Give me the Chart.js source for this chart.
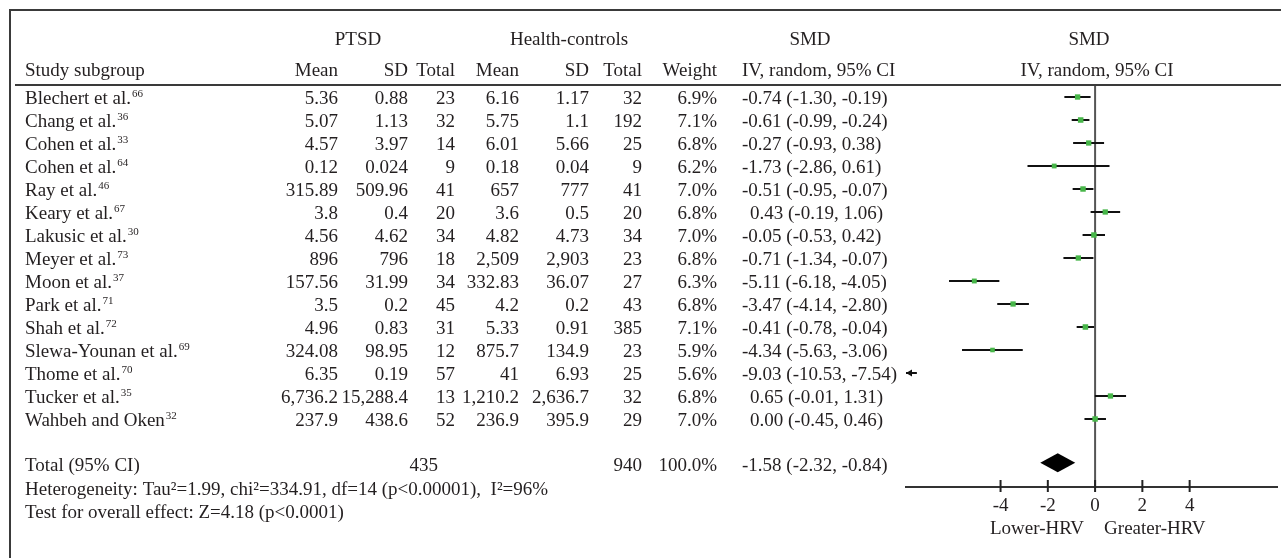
<!DOCTYPE html>
<html>
<head>
<meta charset="utf-8">
<script src="https://cdn.jsdelivr.net/npm/chart.js@4/dist/chart.umd.min.js"></script>
<style>
  html, body { margin: 0; padding: 0; background: #ffffff; }
  #wrap { width: 1281px; height: 558px; }
</style>
</head>
<body>
<div id="wrap"><canvas id="forest" width="1281" height="558"></canvas></div>
<script>
// ---- Study data ----
const studies = ["Blechert et al.", "Chang et al.", "Cohen et al.", "Cohen et al.", "Ray et al.",
  "Keary et al.", "Lakusic et al.", "Meyer et al.", "Moon et al.", "Park et al.", "Shah et al.",
  "Slewa-Younan et al.", "Thome et al.", "Tucker et al.", "Wahbeh and Oken"];
const refs = ["66", "36", "33", "64", "46", "67", "30", "73", "37", "71", "72", "69", "70", "35", "32"];

const ptsdMean = [5.36, 5.07, 4.57, 0.12, 315.89, 3.8, 4.56, 896, 157.56, 3.5, 4.96, 324.08, 6.35, 6736.2, 237.9];
const ptsdSD   = [0.88, 1.13, 3.97, 0.024, 509.96, 0.4, 4.62, 796, 31.99, 0.2, 0.83, 98.95, 0.19, 15288.4, 438.6];
const ptsdN    = [23, 32, 14, 9, 41, 20, 34, 18, 34, 45, 31, 12, 57, 13, 52];

const hcMean = [6.16, 5.75, 6.01, 0.18, 657, 3.6, 4.82, 2509, 332.83, 4.2, 5.33, 875.7, 41, 1210.2, 236.9];
const hcSD   = [1.17, 1.1, 5.66, 0.04, 777, 0.5, 4.73, 2903, 36.07, 0.2, 0.91, 134.9, 6.93, 2636.7, 395.9];
const hcN    = [32, 192, 25, 9, 41, 20, 34, 23, 27, 43, 385, 23, 25, 32, 29];

const weights = [6.9, 7.1, 6.8, 6.2, 7.0, 6.8, 7.0, 6.8, 6.3, 6.8, 7.1, 5.9, 5.6, 6.8, 7.0];
const smd     = [-0.74, -0.61, -0.27, -1.73, -0.51, 0.43, -0.05, -0.71, -5.11, -3.47, -0.41, -4.34, -9.03, 0.65, 0.00];
const ciLow   = [-1.30, -0.99, -0.93, -2.86, -0.95, -0.19, -0.53, -1.34, -6.18, -4.14, -0.78, -5.63, -10.53, -0.01, -0.45];
const ciHigh  = [-0.19, -0.24, 0.38, 0.61, -0.07, 1.06, 0.42, -0.07, -4.05, -2.80, -0.04, -3.06, -7.54, 1.31, 0.46];

// ---- Pooled result ----
const totalPtsdN = 435;
const totalHcN = 940;
const totalWeight = 100.0;
const totalSmd = -1.58;
const totalLow = -2.32;
const totalHigh = -0.84;
const heterogeneityText = "Heterogeneity: Tau\u00B2=1.99, chi\u00B2=334.91, df=14 (p<0.00001),  I\u00B2=96%";
const overallText = "Test for overall effect: Z=4.18 (p<0.0001)";

// ---- Axis ----
const xTicks = [-4, -2, 0, 2, 4];
const axisLeftLabel = "Lower-HRV";
const axisRightLabel = "Greater-HRV";

// ---- Layout ----
const FONT = '"Liberation Serif", "Times New Roman", serif';
const FS = 19;
const INK = '#231f20';
const RULE = '#3a3a3a';
const totalRowPos = 15.9;

const fmtNum = v => v.toLocaleString('en-US', { maximumFractionDigits: 3 });
const fmt2 = v => (Object.is(v, -0) ? 0 : v).toFixed(2);

function text(ctx, s, x, y, align, size) {
  ctx.font = (size || FS) + 'px ' + FONT;
  ctx.textAlign = align || 'left';
  ctx.textBaseline = 'alphabetic';
  ctx.fillText(s, x, y);
}

const forestPlugin = {
  id: 'forest',
  beforeDatasetsDraw(chart) {
    const { ctx, chartArea: ca } = chart;
    const xs = chart.scales.x, ys = chart.scales.y;
    ctx.save();
    // line of no effect
    const x0 = xs.getPixelForValue(0);
    ctx.strokeStyle = '#555555';
    ctx.lineWidth = 2;
    ctx.beginPath();
    ctx.moveTo(x0, ca.top);
    ctx.lineTo(x0, ca.bottom);
    ctx.stroke();

    // confidence intervals
    ctx.strokeStyle = '#111111';
    ctx.fillStyle = '#111111';
    ctx.lineWidth = 2;
    smd.forEach((v, i) => {
      const y = ys.getPixelForValue(i);
      let a = xs.getPixelForValue(ciLow[i]);
      let b = xs.getPixelForValue(ciHigh[i]);
      const clippedLeft = a < ca.left;
      a = Math.max(a, ca.left);
      b = Math.min(b, ca.right);
      if (b <= ca.left) return;
      ctx.beginPath();
      ctx.moveTo(a, y);
      ctx.lineTo(b, y);
      ctx.stroke();
      if (clippedLeft) {
        ctx.beginPath();
        ctx.moveTo(a, y);
        ctx.lineTo(a + 6, y - 3.5);
        ctx.lineTo(a + 6, y + 3.5);
        ctx.closePath();
        ctx.fill();
      }
    });

    // pooled estimate diamond
    const yd = ys.getPixelForValue(totalRowPos);
    ctx.fillStyle = '#000000';
    ctx.beginPath();
    ctx.moveTo(xs.getPixelForValue(totalLow), yd);
    ctx.lineTo(xs.getPixelForValue(totalSmd), yd - 9.5);
    ctx.lineTo(xs.getPixelForValue(totalHigh), yd);
    ctx.lineTo(xs.getPixelForValue(totalSmd), yd + 9.5);
    ctx.closePath();
    ctx.fill();
    ctx.restore();
  },
  afterDraw(chart) {
    const { ctx, chartArea: ca } = chart;
    const xs = chart.scales.x, ys = chart.scales.y;
    const W = chart.width, H = chart.height;
    ctx.save();

    // frame and header rules
    ctx.strokeStyle = RULE;
    ctx.lineWidth = 2;
    ctx.beginPath();
    ctx.moveTo(10, H);
    ctx.lineTo(10, 10);
    ctx.lineTo(W, 10);
    ctx.stroke();
    ctx.beginPath();
    ctx.moveTo(15, 85);
    ctx.lineTo(W, 85);
    ctx.stroke();

    // tick marks across the axis line
    ctx.strokeStyle = '#222222';
    ctx.lineWidth = 2;
    xs.ticks.forEach(t => {
      const px = xs.getPixelForValue(t.value);
      ctx.beginPath();
      ctx.moveTo(px, ca.bottom - 7);
      ctx.lineTo(px, ca.bottom + 5);
      ctx.stroke();
    });

    ctx.fillStyle = INK;
    // column headers
    text(ctx, 'PTSD', 358, 45, 'center');
    text(ctx, 'Health-controls', 569, 45, 'center');
    text(ctx, 'SMD', 810, 45, 'center');
    text(ctx, 'SMD', 1089, 45, 'center');
    text(ctx, 'Study subgroup', 25, 76, 'left');
    text(ctx, 'Mean', 338, 76, 'right');
    text(ctx, 'SD', 408, 76, 'right');
    text(ctx, 'Total', 455, 76, 'right');
    text(ctx, 'Mean', 519, 76, 'right');
    text(ctx, 'SD', 589, 76, 'right');
    text(ctx, 'Total', 642, 76, 'right');
    text(ctx, 'Weight', 717, 76, 'right');
    text(ctx, 'IV, random, 95% CI', 742, 76, 'left');
    text(ctx, 'IV, random, 95% CI', 1097, 76, 'center');

    // study rows
    studies.forEach((name, i) => {
      const yb = ys.getPixelForValue(i) + 7;
      text(ctx, name, 25, yb, 'left');
      ctx.font = FS + 'px ' + FONT;
      const w = ctx.measureText(name).width;
      text(ctx, refs[i], 25 + w + 1, yb - 7, 'left', 11);
      text(ctx, fmtNum(ptsdMean[i]), 338, yb, 'right');
      text(ctx, fmtNum(ptsdSD[i]), 408, yb, 'right');
      text(ctx, String(ptsdN[i]), 455, yb, 'right');
      text(ctx, fmtNum(hcMean[i]), 519, yb, 'right');
      text(ctx, fmtNum(hcSD[i]), 589, yb, 'right');
      text(ctx, String(hcN[i]), 642, yb, 'right');
      text(ctx, weights[i].toFixed(1) + '%', 717, yb, 'right');
      const lead = smd[i] < 0 ? 0 : 8;
      text(ctx, fmt2(smd[i]) + ' (' + fmt2(ciLow[i]) + ', ' + fmt2(ciHigh[i]) + ')', 742 + lead, yb, 'left');
    });

    // pooled row
    const yt = ys.getPixelForValue(totalRowPos) + 8;
    text(ctx, 'Total (95% CI)', 25, yt, 'left');
    text(ctx, String(totalPtsdN), 438, yt, 'right');
    text(ctx, String(totalHcN), 642, yt, 'right');
    text(ctx, totalWeight.toFixed(1) + '%', 717, yt, 'right');
    text(ctx, fmt2(totalSmd) + ' (' + fmt2(totalLow) + ', ' + fmt2(totalHigh) + ')', 742, yt, 'left');
    text(ctx, heterogeneityText, 25, 494.5, 'left');
    text(ctx, overallText, 25, 518, 'left');

    // axis direction labels
    const x0 = xs.getPixelForValue(0);
    text(ctx, axisLeftLabel, x0 - 11, 534, 'right');
    text(ctx, axisRightLabel, x0 + 9, 534, 'left');
    ctx.restore();
  }
};

new Chart(document.getElementById('forest'), {
  type: 'scatter',
  data: {
    datasets: [{
      data: smd.map((v, i) => ({ x: v, y: i })),
      pointStyle: 'rect',
      pointRadius: weights.map(w => w * 0.55),
      pointHoverRadius: weights.map(w => w * 0.55),
      backgroundColor: '#47b649',
      borderWidth: 0,
      clip: 0
    }]
  },
  options: {
    responsive: false,
    devicePixelRatio: 1,
    animation: false,
    events: [],
    layout: { padding: { left: 906, right: 0, top: 85, bottom: 0 } },
    plugins: { legend: { display: false }, tooltip: { enabled: false } },
    scales: {
      x: {
        type: 'linear',
        min: -8,
        max: 7.7,
        afterBuildTicks: s => { s.ticks = xTicks.map(v => ({ value: v })); },
        afterFit: s => { s.height = 71; },
        grid: { display: false, drawTicks: false },
        border: { display: true, color: '#333333', width: 2 },
        ticks: {
          autoSkip: false,
          maxRotation: 0,
          padding: 8,
          color: INK,
          font: { family: FONT, size: FS },
          callback: v => String(v)
        }
      },
      y: {
        type: 'linear',
        display: false,
        reverse: true,
        min: -12 / 23,
        max: -12 / 23 + 402 / 23
      }
    }
  },
  plugins: [forestPlugin]
});
</script>
</body>
</html>
